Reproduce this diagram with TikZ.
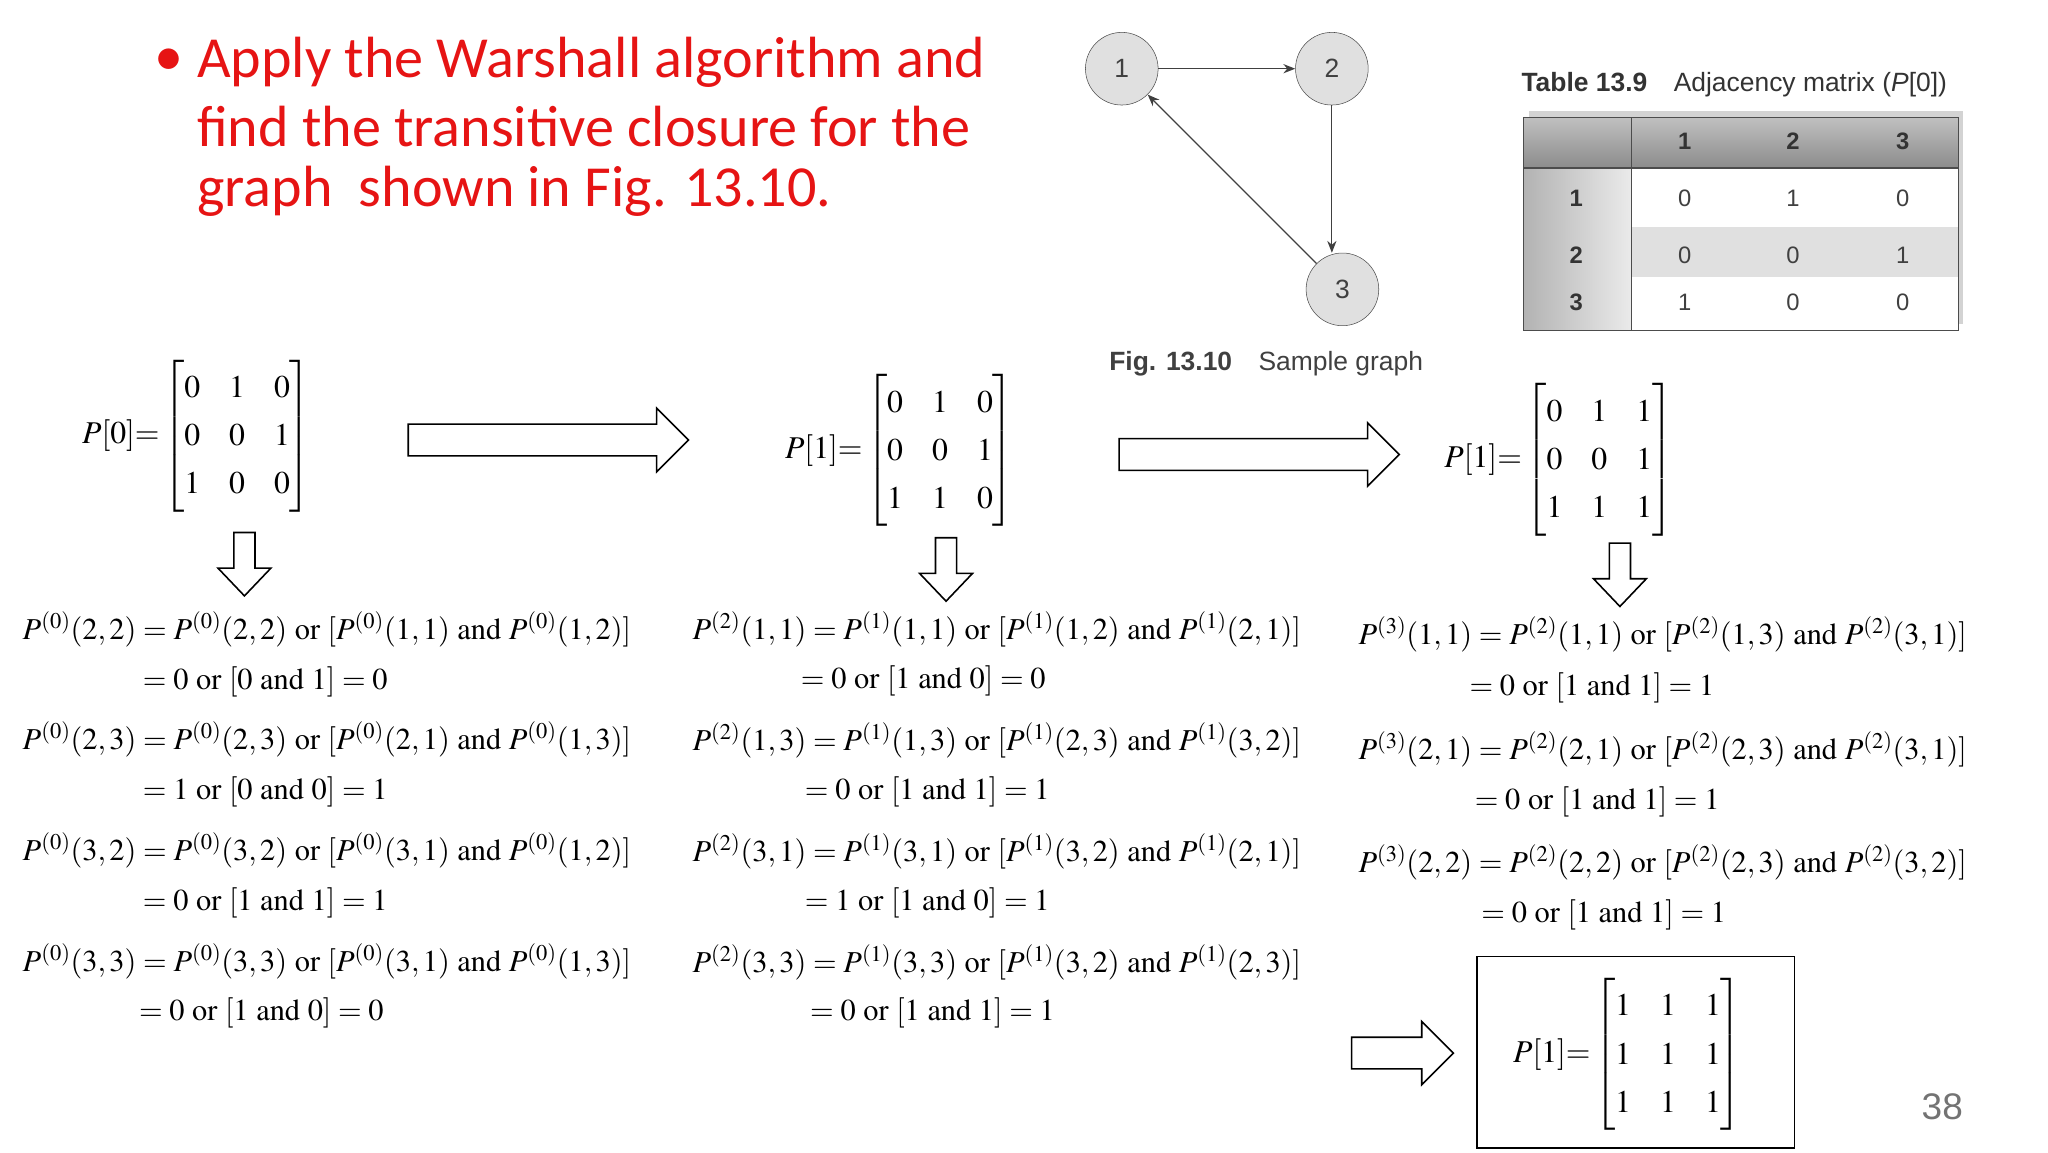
\documentclass[tikz,border=0pt]{standalone}
\usepackage{amsmath}
\usepackage{mathptmx}
\usepackage{fontspec}
\setmainfont{Liberation Serif}
\newfontfamily\calib{Carlito}
\newfontfamily\arial{Liberation Sans}
\usetikzlibrary{shadows,arrows.meta}
\definecolor{tred}{RGB}{230,20,20}
\newcommand{\wOr}{\mathrm{\ or\ }}
\newcommand{\wAnd}{\mathrm{\ and\ }}
\begin{document}
\begin{tikzpicture}[x=1pt,y=-1pt,
  title/.style={font=\calib\fontsize{44}{52}\selectfont,text=tred,anchor=west,inner sep=0},
  gnode/.style={circle,draw=black!70,fill=black!12,minimum size=55,inner sep=0,font=\arial\fontsize{20}{24}\selectfont,text=black!75},
  gedge/.style={draw=black!75,line width=0.9,-{Stealth[length=9,width=7]}},
  cell/.style={font=\arial\fontsize{18}{22}\selectfont,text=black!75},
  hcell/.style={font=\arial\bfseries\fontsize{18}{22}\selectfont,text=black!80},
  eq/.style={anchor=base west,inner sep=0,font=\fontsize{23}{27}\selectfont},
  mat/.style={inner sep=0,font=\fontsize{24}{28}\selectfont},
  bigarrow/.style={draw=black,line width=1.2,fill=white}]
\useasboundingbox (0,0) rectangle (1550,872);
% title
\node[title] (b) at (117,47) {\textbullet};
\node[title] (t1) at (149,47) {Apply the Warshall algorithm and};
\node[title] (t2) at (149,96) {find the transitive closure for the};
\node[title] (t3) at (149,145) {graph\ \ shown in Fig. 13.10.};
% graph
\node[gnode] (n1) at (849,52) {1};
\node[gnode] (n2) at (1008,52) {2};
\node[gnode] (n3) at (1016,219) {3};
\draw[gedge] (n1) -- (n2);
\draw[gedge] (n2.south) -- (n2.south|-n3.north);
\draw[gedge] (n3) -- (n1);
\node[anchor=west,font=\arial\fontsize{20}{24}\selectfont,text=black!75] (cap) at (836,275) {\textbf{Fig. 13.10}\quad Sample graph};
% table
\node[anchor=west,font=\arial\fontsize{20}{24}\selectfont,text=black!80] (tt) at (1148,64) {\textbf{Table 13.9}\quad Adjacency matrix (\textit{P}[0])};
\fill[white,drop shadow={shadow xshift=4,shadow yshift=-5,opacity=0.35}] (1153,89) rectangle (1482,250);
\shade[top color=black!25,bottom color=black!45] (1153,89) rectangle (1482,127);
\fill[black!12] (1235,172) rectangle (1482,210);
\shade[left color=black!30,right color=black!8] (1153,127) rectangle (1235,250);
\draw[black!70,line width=1] (1153,89) rectangle (1482,250);
\draw[black!70,line width=1] (1235,89) -- (1235,250);
\draw[black!70,line width=1.2] (1153,127) -- (1482,127);
\foreach \c/\x in {1/1275,2/1357,3/1440}{\node[hcell] (h\c) at (\x,107) {\c};}
\foreach \r/\y in {1/150,2/193,3/229}{\node[hcell] (r\r) at (1193,\y) {\r};}
\node[cell] (c11) at (1275,150) {0};\node[cell] (c12) at (1357,150) {1};\node[cell] (c13) at (1440,150) {0};
\node[cell] (c21) at (1275,193) {0};\node[cell] (c22) at (1357,193) {0};\node[cell] (c23) at (1440,193) {1};
\node[cell] (c31) at (1275,229) {1};\node[cell] (c32) at (1357,229) {0};\node[cell] (c33) at (1440,229) {0};
% matrices
\renewcommand{\arraystretch}{1.3}
\setlength{\arraycolsep}{11pt}
\node[mat,anchor=west] (m0) at (62,330) {$P[0]{=}\begin{bmatrix}0&1&0\\0&0&1\\1&0&0\end{bmatrix}$};
\node[mat,anchor=west] (m1) at (594,341) {$P[1]{=}\begin{bmatrix}0&1&0\\0&0&1\\1&1&0\end{bmatrix}$};
\node[mat,anchor=west] (m2) at (1093,348) {$P[1]{=}\begin{bmatrix}0&1&1\\0&0&1\\1&1&1\end{bmatrix}$};
% big arrows
\draw[bigarrow] (309,321) -- (497,321) -- (497,309) -- (521,333) -- (497,357) -- (497,345) -- (309,345) -- cycle;
\draw[bigarrow] (847,332) -- (1035,332) -- (1035,320) -- (1059,344) -- (1035,368) -- (1035,356) -- (847,356) -- cycle;
\draw[bigarrow] (1023,785) -- (1076,785) -- (1076,773) -- (1100,797) -- (1076,821) -- (1076,809) -- (1023,809) -- cycle;
% down arrows
\foreach \x/\y in {185/403,716/407,1226/411}{
 \draw[bigarrow] (\x-8,\y) -- (\x+8,\y) -- (\x+8,\y+27) -- (\x+20,\y+27) -- (\x,\y+48) -- (\x-20,\y+27) -- (\x-8,\y+27) -- cycle;}
% equations column 1
\node[eq] (a1) at (17,484) {$P^{(0)}(2,2)=P^{(0)}(2,2)\wOr[P^{(0)}(1,1)\wAnd P^{(0)}(1,2)]$};
\node[eq] (a1b) at (108,522) {$=0\wOr[0\wAnd 1]=0$};
\node[eq] (a2) at (17,567) {$P^{(0)}(2,3)=P^{(0)}(2,3)\wOr[P^{(0)}(2,1)\wAnd P^{(0)}(1,3)]$};
\node[eq] (a2b) at (108,605) {$=1\wOr[0\wAnd 0]=1$};
\node[eq] (a3) at (17,651) {$P^{(0)}(3,2)=P^{(0)}(3,2)\wOr[P^{(0)}(3,1)\wAnd P^{(0)}(1,2)]$};
\node[eq] (a3b) at (108,689) {$=0\wOr[1\wAnd 1]=1$};
\node[eq] (a4) at (17,735) {$P^{(0)}(3,3)=P^{(0)}(3,3)\wOr[P^{(0)}(3,1)\wAnd P^{(0)}(1,3)]$};
\node[eq] (a4b) at (105,772) {$=0\wOr[1\wAnd 0]=0$};
% column 2
\node[eq] (e1) at (524,484) {$P^{(2)}(1,1)=P^{(1)}(1,1)\wOr[P^{(1)}(1,2)\wAnd P^{(1)}(2,1)]$};
\node[eq] (e1b) at (606,521) {$=0\wOr[1\wAnd 0]=0$};
\node[eq] (e2) at (524,568) {$P^{(2)}(1,3)=P^{(1)}(1,3)\wOr[P^{(1)}(2,3)\wAnd P^{(1)}(3,2)]$};
\node[eq] (e2b) at (609,605) {$=0\wOr[1\wAnd 1]=1$};
\node[eq] (e3) at (524,652) {$P^{(2)}(3,1)=P^{(1)}(3,1)\wOr[P^{(1)}(3,2)\wAnd P^{(1)}(2,1)]$};
\node[eq] (e3b) at (609,689) {$=1\wOr[1\wAnd 0]=1$};
\node[eq] (e4) at (524,736) {$P^{(2)}(3,3)=P^{(1)}(3,3)\wOr[P^{(1)}(3,2)\wAnd P^{(1)}(2,3)]$};
\node[eq] (e4b) at (613,772) {$=0\wOr[1\wAnd 1]=1$};
% column 3
\node[eq] (f1) at (1028,488) {$P^{(3)}(1,1)=P^{(2)}(1,1)\wOr[P^{(2)}(1,3)\wAnd P^{(2)}(3,1)]$};
\node[eq] (f1b) at (1112,526) {$=0\wOr[1\wAnd 1]=1$};
\node[eq] (f2) at (1028,575) {$P^{(3)}(2,1)=P^{(2)}(2,1)\wOr[P^{(2)}(2,3)\wAnd P^{(2)}(3,1)]$};
\node[eq] (f2b) at (1116,613) {$=0\wOr[1\wAnd 1]=1$};
\node[eq] (f3) at (1028,660) {$P^{(3)}(2,2)=P^{(2)}(2,2)\wOr[P^{(2)}(2,3)\wAnd P^{(2)}(3,2)]$};
\node[eq] (f3b) at (1121,698) {$=0\wOr[1\wAnd 1]=1$};
% final box
\draw[line width=1.2] (1118,724) rectangle (1358,869);
\node[mat,anchor=west] (mf) at (1145,798) {$P[1]{=}\begin{bmatrix}1&1&1\\1&1&1\\1&1&1\end{bmatrix}$};
\node[font=\arial\fontsize{28}{32}\selectfont,text=black!55] (pg) at (1470,838) {38};
\end{tikzpicture}
\end{document}
